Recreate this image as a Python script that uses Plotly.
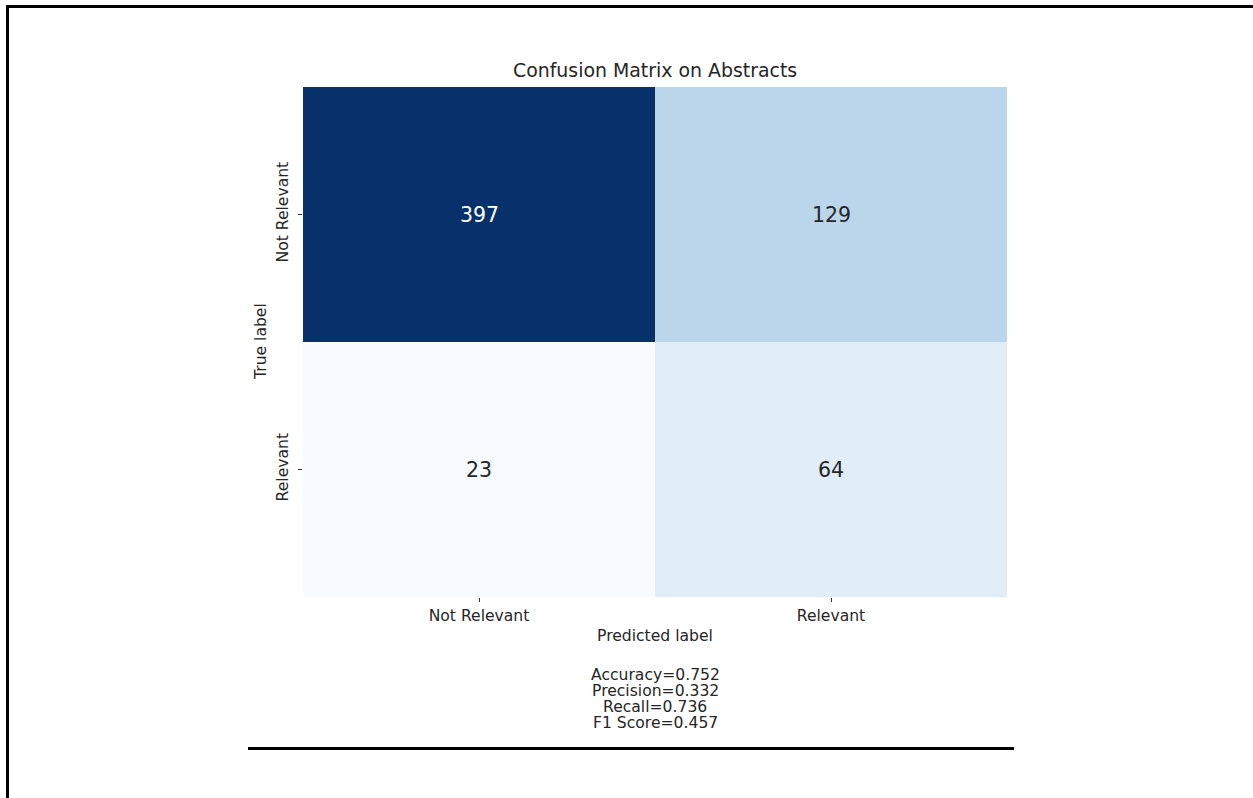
import plotly.graph_objects as go

# ---- data ----
pred_labels = ["Not Relevant", "Relevant"]
true_labels = ["Not Relevant", "Relevant"]
counts = [[397, 129],
          [23, 64]]
metric_names = ["Accuracy", "Precision", "Recall", "F1 Score"]
metric_values = [0.752, 0.332, 0.736, 0.457]
title_text = "Confusion Matrix on Abstracts"

W, H = 1253, 798
L, R, T, B = 303, 1007, 87, 597  # plot area in pixels
PW, PH = R - L, B - T


def px(x):
    return (x - L) / PW


def py(y):
    return (B - y) / PH


blues = [[0.0, "rgb(247,251,255)"], [0.125, "rgb(222,235,247)"], [0.25, "rgb(198,219,239)"],
         [0.375, "rgb(158,202,225)"], [0.5, "rgb(107,174,214)"], [0.625, "rgb(66,146,198)"],
         [0.75, "rgb(33,113,181)"], [0.875, "rgb(8,81,156)"], [1.0, "rgb(8,48,107)"]]

FONT = "DejaVu Sans"
TXT = "#262626"
FS = 15.6

fig = go.Figure(go.Heatmap(
    z=counts, x=pred_labels, y=true_labels,
    colorscale=blues, showscale=False, hoverinfo="skip",
))

zmin = min(min(r) for r in counts)
zmax = max(max(r) for r in counts)
anns = []
for i, t in enumerate(true_labels):
    for j, p in enumerate(pred_labels):
        v = counts[i][j]
        frac = (v - zmin) / (zmax - zmin)
        anns.append(dict(x=p, y=t, xref="x", yref="y", text=str(v), showarrow=False,
                         font=dict(family=FONT, size=20.5,
                                   color="white" if frac > 0.5 else TXT)))

anns.append(dict(x=0.5, y=py(636), xref="paper", yref="paper", text="Predicted label",
                 showarrow=False, font=dict(family=FONT, size=FS, color=TXT),
                 xanchor="center", yanchor="middle"))
for k, (n, v) in enumerate(zip(metric_names, metric_values)):
    anns.append(dict(x=0.5, y=py(675 + 16 * k), xref="paper", yref="paper",
                     text=f"{n}={v:.3f}", showarrow=False,
                     font=dict(family=FONT, size=FS, color=TXT),
                     xanchor="center", yanchor="middle"))
anns.append(dict(x=0.5, y=py(70), xref="paper", yref="paper", text=title_text,
                 showarrow=False, font=dict(family=FONT, size=18.9, color=TXT),
                 xanchor="center", yanchor="middle"))
anns.append(dict(x=px(261), y=0.5, xref="paper", yref="paper", text="True label",
                 showarrow=False, textangle=-90, font=dict(family=FONT, size=FS, color=TXT),
                 xanchor="center", yanchor="middle"))

shapes = [
    dict(type="line", xref="paper", yref="paper", x0=px(6), x1=px(1253), y0=py(6.5), y1=py(6.5),
         line=dict(color="black", width=3)),
    dict(type="line", xref="paper", yref="paper", x0=px(7.5), x1=px(7.5), y0=py(5), y1=py(798),
         line=dict(color="black", width=3)),
    dict(type="line", xref="paper", yref="paper", x0=px(248), x1=px(1014), y0=py(748.5), y1=py(748.5),
         line=dict(color="black", width=3)),
]

fig.update_layout(
    width=W, height=H,
    margin=dict(l=L, r=W - R, t=T, b=H - B, pad=0),
    paper_bgcolor="white", plot_bgcolor="white",
    annotations=anns, shapes=shapes,
    font=dict(family=FONT, color=TXT),
)
fig.update_xaxes(ticks="outside", ticklen=4, tickcolor="#333", tickwidth=1,
                 tickfont=dict(family=FONT, size=FS, color=TXT),
                 showgrid=False, zeroline=False, showline=False)
fig.update_yaxes(ticks="outside", ticklen=4, tickcolor="#333", tickwidth=1, tickangle=-90,
                 ticklabelstandoff=4,
                 tickfont=dict(family=FONT, size=FS, color=TXT), autorange="reversed",
                 showgrid=False, zeroline=False, showline=False)

fig.write_html("out.html")
